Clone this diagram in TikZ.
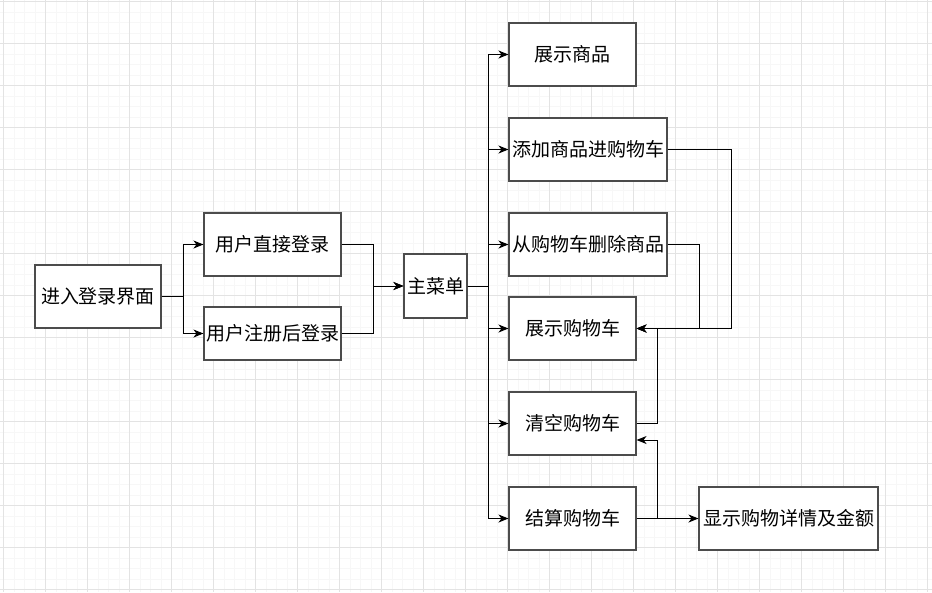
\documentclass[tikz,border=0pt]{standalone}
\usepackage{fontspec}
\newfontfamily\cjk{Noto Sans CJK SC}
\usetikzlibrary{arrows.meta, positioning, calc}

\begin{document}
\begin{tikzpicture}[x=1pt, y=-1pt]
            \tikzstyle{box} = [draw=black!70, line width=1.1pt, fill=white, rectangle, minimum height=63pt, inner sep=1pt, align=center, font=\cjk\fontsize{19}{21}\selectfont]
            \tikzstyle{arr} = [-{Stealth[length=10pt, width=8pt, inset=3pt]}, line width=1pt, black]

            \useasboundingbox (0,0) rectangle (932,592);
            \fill[white] (0,0) rectangle (932,592);
            \foreach \i in {0,...,89} {
                \draw[black!3, line width=0.6pt] (3.3+\i*10.5,0) -- (3.3+\i*10.5,592);
            }
            \foreach \i in {0,...,56} {
                \draw[black!3, line width=0.6pt] (0,1.3+\i*10.5) -- (932,1.3+\i*10.5);
            }
            \foreach \i in {0,...,22} {
                \draw[black!11, line width=0.7pt] (3.3+\i*42,0) -- (3.3+\i*42,592);
            }
            \foreach \i in {0,...,14} {
                \draw[black!11, line width=0.7pt] (0,1.3+\i*42) -- (932,1.3+\i*42);
            }

            \node[box, minimum width=126pt] (login) at (98, 296.5) {进入登录界面};
            \node[box, minimum width=137pt] (direct) at (272.5, 244.5) {用户直接登录};
            \node[box, minimum width=137pt, minimum height=53pt] (reg) at (272.5, 333.5) {用户注册后登录};
            \node[box, minimum width=63pt, minimum height=64pt] (menu) at (435.5, 286) {主菜单};

            \node[box, minimum width=127pt] (goods) at (572.5, 54.5) {展示商品};
            \node[box, minimum width=158pt] (add) at (588, 149.5) {添加商品进购物车};
            \node[box, minimum width=158pt] (del) at (588, 244.5) {从购物车删除商品};
            \node[box, minimum width=127pt] (cart) at (572.5, 328.5) {展示购物车};
            \node[box, minimum width=127pt] (clear) at (572.5, 423.5) {清空购物车};
            \node[box, minimum width=127pt] (pay) at (572.5, 518.5) {结算购物车};
            \node[box, minimum width=179pt] (detail) at (788.5, 518.5) {显示购物详情及金额};

            \draw[arr] (login.east) -- ++(21.5,0) |- (direct.west);
            \draw[arr] (login.east) -- ++(21.5,0) |- (reg.west);
            \draw[arr] (direct.east) -- ++(31.5,0) |- (menu.west);
            \draw[arr] (reg.east) -- ++(31.5,0) |- (menu.west);

            \foreach \n in {goods, add, del, cart, clear, pay} {
                \draw[arr] (menu.east) -- ++(21,0) |- (\n.west);
            }

            \draw[arr] (add.east) -- ++(64,0) |- (cart.east);
            \draw[arr] (del.east) -- ++(32,0) |- (cart.east);
            \draw[arr] (clear.east) -- ++(21,0) |- (cart.east);
            \draw[arr] (pay.east) -- ++(21,0) |- ([yshift=-16.5pt]clear.east);
            \draw[arr] (pay) -- (detail);
        \end{tikzpicture}
\end{document}
